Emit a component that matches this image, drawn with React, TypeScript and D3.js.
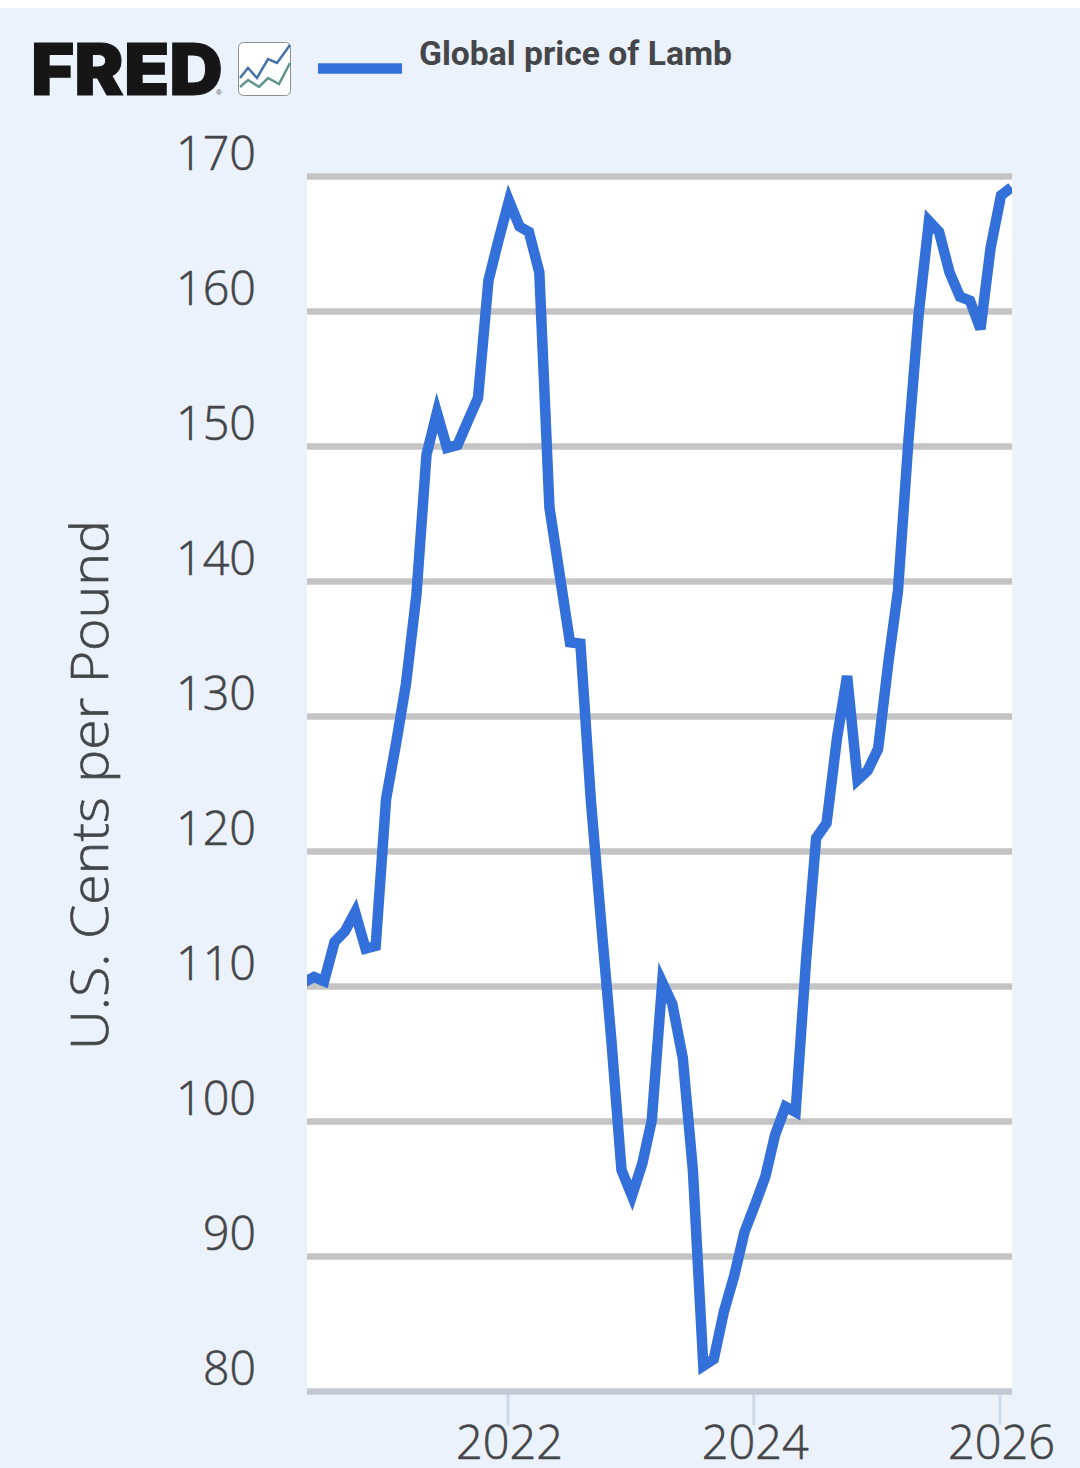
import React from "react";
import * as d3 from "d3";

const startYear = 2020;
const startMonth = 4; // May
const lamb = [110.3,110.7,110.4,113.3,114.1,115.5,112.8,113.0,123.9,128.2,132.4,139.0,149.4,152.5,149.9,150.1,151.9,153.6,162.3,165.3,168.2,166.3,165.9,162.9,145.5,140.4,135.5,135.4,123.8,114.9,106.0,96.4,94.5,96.9,100.1,110.3,108.7,104.7,96.4,81.9,82.4,85.9,88.6,91.8,93.8,95.9,99.0,101.1,100.7,111.9,121.0,122.1,128.4,133.0,125.3,126.0,127.6,134.1,139.3,150.4,159.7,166.7,165.9,162.9,161.1,160.8,158.7,164.7,168.6,169.2];
const yTicks = [80,90,100,110,120,130,140,150,160,170];
const xTicks = [2022,2024,2026];
const legendLabel = "Global price of Lamb";
const yTitle = "U.S. Cents per Pound";

const W = 1080, H = 1468;
const plot = { l: 307, r: 1012, t: 176.5, b: 1391.5 };
const BG = "#ebf2fb", LINE = "#3370d9", TEXT = "#444649", GRID = "#c4c4c4";

export default function App() {
  const y = d3.scaleLinear().domain([80,170]).range([plot.b, plot.t]);
  const x = d3.scaleTime().domain([new Date(2022,0,1), new Date(2026,0,1)]).range([508,1000]);
  const dates = lamb.map((_, i) => new Date(startYear, startMonth + i, 4));
  const path = d3.line<number>().x((_, i) => x(dates[i])).y(d => y(d)).curve(d3.curveLinear)(lamb) || "";
  return (
    <svg width={W} height={H} viewBox={`0 0 ${W} ${H}`} style={{position:"absolute",left:0,top:0,display:"block"}}>
      <defs><clipPath id="plot"><rect x={plot.l} y={plot.t-4} width={plot.r-plot.l} height={plot.b-plot.t+8}/></clipPath></defs>
      <rect x={0} y={0} width={W} height={H} fill="#fff"/>
      <rect x={0} y={8} width={W} height={H-8} fill={BG}/>
      <rect x={plot.l} y={plot.t} width={plot.r-plot.l} height={plot.b-plot.t} fill="#fff"/>
      {xTicks.map(t => {
        const px = x(new Date(t,0,1));
        return <g key={t}>
          <line x1={px} x2={px} y1={plot.b} y2={1425} stroke="#d0d9e9" strokeWidth={3}/>
          <text x={px+1.5} y={1459} textAnchor="middle" fontFamily="'Open Sans'" fontSize={47} fontWeight={300} fill={TEXT} stroke={TEXT} strokeWidth={0.6} textLength={107} lengthAdjust="spacingAndGlyphs">{t}</text>
        </g>;
      })}
      {yTicks.map(t => <line key={t} x1={plot.l} x2={plot.r} y1={y(t)} y2={y(t)} stroke={t===80?"#c2c7d1":GRID} strokeWidth={6.5}/>)}
      {yTicks.map(t => <text key={t} x={256} y={y(t)-7} textAnchor="end" fontFamily="'Open Sans'" fontSize={48} fontWeight={300} fill={TEXT} stroke={TEXT} strokeWidth={0.6} textLength={t>=100?80:53} lengthAdjust="spacingAndGlyphs">{t}</text>)}
      <path d={path} fill="none" stroke={LINE} strokeWidth={10.5} strokeLinejoin="miter" strokeMiterlimit={4} clipPath="url(#plot)"/>
      <text transform="translate(108,785) rotate(-90)" textAnchor="middle" fontFamily="'Open Sans'" fontSize={51} fontWeight={300} fill={TEXT} stroke={TEXT} strokeWidth={0.6} textLength={530} lengthAdjust="spacingAndGlyphs">{yTitle}</text>
      <text x={31} y={95} fontFamily="'Inter','Liberation Sans'" fontWeight={900} fontSize={72} fill="#161616" stroke="#161616" strokeWidth={1} textLength={192} lengthAdjust="spacingAndGlyphs">FRED</text>
      <text x={216} y={95} fontFamily="'Liberation Sans'" fontSize={8} fill="#555">®</text>
      <rect x={238.5} y={42.5} width={52} height={53} rx={5} fill="#fff" stroke="#8a8f96" strokeWidth={1}/>
      <polyline points="240,78 248,68 257,78 268,59 277,63 290,45" fill="none" stroke="#4473a8" strokeWidth={2.5}/>
      <polyline points="240,87 248,80 259,87 268,78 279,84 290,63" fill="none" stroke="#5f9490" strokeWidth={2.5}/>
      <line x1={318} x2={402} y1={68.5} y2={68.5} stroke={LINE} strokeWidth={10.5}/>
      <text x={419} y={65} fontFamily="Roboto" fontWeight={700} fontSize={33} fill={TEXT} textLength={313} lengthAdjust="spacingAndGlyphs">{legendLabel}</text>
    </svg>
  );
}
